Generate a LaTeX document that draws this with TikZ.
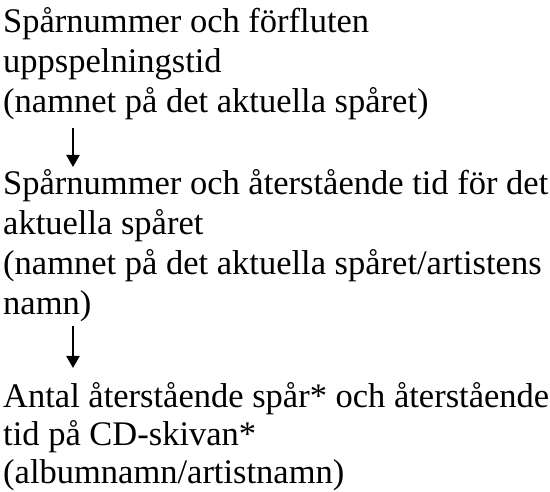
\documentclass[tikz,border=0pt]{standalone}
\usepackage{fontspec}
\setmainfont{Liberation Serif}
\usetikzlibrary{arrows.meta}
\begin{document}
\begin{tikzpicture}[x=1pt,y=-1pt,
  txt/.style={anchor=base west,inner sep=0pt,align=left,font=\fontsize{34.5}{40}\selectfont},
  flow/.style={line width=2.2pt,-{Triangle[length=12pt,width=13pt]}}]
\useasboundingbox (0,0) rectangle (550,492);
\node[txt] (b1) at (3,113) {Spårnummer och förfluten\\uppspelningstid\\(namnet på det aktuella spåret)};
\node[txt] (b2) at (3,315) {Spårnummer och återstående tid för det\\aktuella spåret\\(namnet på det aktuella spåret/artistens\\namn)};
\node[txt,font=\fontsize{34.5}{38}\selectfont] (b3) at (3,483) {Antal återstående spår* och återstående\\tid på CD-skivan*\\(albumnamn/artistnamn)};
\coordinate (a1s) at (73,128);
\coordinate (a1e) at (73,167);
\coordinate (a2s) at (73,326);
\coordinate (a2e) at (73,368);
\draw[flow] (a1s) -- (a1e);
\draw[flow] (a2s) -- (a2e);
\end{tikzpicture}
\end{document}
